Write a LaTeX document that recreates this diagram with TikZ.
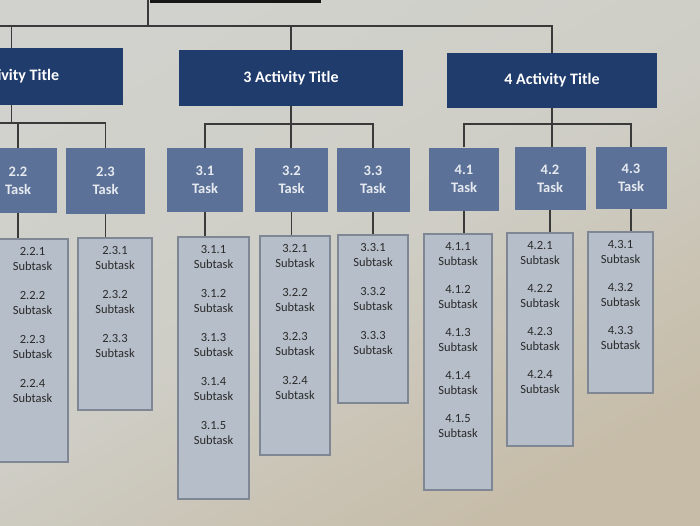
\documentclass[tikz,border=0pt]{standalone}
\usepackage{fontspec}
\usetikzlibrary{calc}
\setmainfont{Carlito}
\definecolor{navy}{HTML}{203C6C}
\definecolor{taskblue}{HTML}{5B7197}
\definecolor{subfill}{HTML}{B6BEC9}
\definecolor{subedge}{HTML}{7E8793}
\definecolor{linegray}{HTML}{3A3A3A}
\definecolor{subtext}{HTML}{2A2A2A}
\definecolor{tasktext}{HTML}{E6EAF0}
\definecolor{bgA}{HTML}{D1D2CD}
\definecolor{bgB}{HTML}{C6BCA8}
\definecolor{rootblack}{HTML}{161616}
\tikzset{
  act/.style={rectangle, fill=navy, text=white, inner sep=0pt,
    font=\bfseries\fontsize{16}{19}\selectfont},
  taskbox/.style={rectangle, fill=taskblue, text=tasktext, inner sep=0pt, align=center,
    font=\bfseries\fontsize{14.5}{18}\selectfont},
  col/.style={rectangle, fill=subfill, draw=subedge, line width=1.3pt, inner sep=0pt},
  sub/.style={text=subtext, align=center, inner sep=0pt,
    font=\fontsize{12.5}{15}\selectfont},
  conn/.style={draw=linegray, line width=1.8pt}
}
\begin{document}
\begin{tikzpicture}[x=1pt,y=-1pt]
\useasboundingbox (0,0) rectangle (700,525);
\clip (0,0) rectangle (700,525);
\shade[top color=bgA, bottom color=bgB, middle color=bgA!80!bgB, shading angle=30]
  (0,0) rectangle (700,525);

% root (partly visible)
\node[rectangle, fill=rootblack, minimum width=171pt, minimum height=20pt, inner sep=0pt] (root) at (235.5,-7.5) {};
\coordinate (rtop) at (148,-5);
\coordinate (bus) at (148,26);
\coordinate (busL) at (-20,26);

% activities
\node[act, minimum width=223pt, minimum height=57pt] (a2) at (11.5,76.5) {2 Activity Title};
\node[act, minimum width=224pt, minimum height=56pt] (a3) at (291,78) {3 Activity Title};
\node[act, minimum width=210pt, minimum height=55pt] (a4) at (552,80.5) {4 Activity Title};

\draw[conn] (rtop) -- (bus);
\draw[conn] (busL) -- (a4.north |- bus) -- (a4.north);
\draw[conn] (a2.north |- bus) -- (a2.north);
\draw[conn] (a3.north |- bus) -- (a3.north);

% tasks
\node[taskbox, minimum width=78pt, minimum height=65pt] (t22) at (18,180.5) {2.2\\Task};
\node[taskbox, minimum width=79pt, minimum height=66pt] (t23) at (105.5,181) {2.3\\Task};
\node[taskbox, minimum width=76pt, minimum height=64pt] (t31) at (205,180) {3.1\\Task};
\node[taskbox, minimum width=73pt, minimum height=64pt] (t32) at (291.5,180) {3.2\\Task};
\node[taskbox, minimum width=73pt, minimum height=64pt] (t33) at (373,180) {3.3\\Task};
\node[taskbox, minimum width=70pt, minimum height=63pt] (t41) at (464,179) {4.1\\Task};
\node[taskbox, minimum width=71pt, minimum height=63pt] (t42) at (550,178.5) {4.2\\Task};
\node[taskbox, minimum width=71pt, minimum height=62pt] (t43) at (631,178) {4.3\\Task};

% activity -> task buses
\coordinate (b2L) at (-20,123);
\draw[conn] (a2.south) -- (a2.south |- b2L);
\draw[conn] (b2L) -| (t23.north);
\draw[conn] (t22.north |- b2L) -- (t22.north);

\draw[conn] (a3.south) -- (a3.south |- t32.north);
\draw[conn] (t31.north) |- ($(a3.south)+(0,18)$) -| (t33.north);

\draw[conn] (a4.south) -- (a4.south |- t42.north);
\draw[conn] (t41.north) |- ($(a4.south)+(0,16)$) -| (t43.north);

% subtask columns
\node[col, minimum width=71pt, minimum height=223pt] (c22) at (32.5,350.5) {};
\node[col, minimum width=74pt, minimum height=172pt] (c23) at (115,324) {};
\node[col, minimum width=71pt, minimum height=262pt] (c31) at (213.5,368) {};
\node[col, minimum width=70pt, minimum height=219pt] (c32) at (295,345.5) {};
\node[col, minimum width=70pt, minimum height=168pt] (c33) at (373,319) {};
\node[col, minimum width=68pt, minimum height=256pt] (c41) at (458,362) {};
\node[col, minimum width=66pt, minimum height=213pt] (c42) at (540,339.5) {};
\node[col, minimum width=65pt, minimum height=161pt] (c43) at (620.5,312.5) {};

\foreach \t/\c in {t22/c22,t23/c23,t31/c31,t32/c32,t33/c33,t41/c41,t42/c42,t43/c43}
  \draw[conn] (\t.south) -- (\t.south |- \c.north);

% subtask labels
\foreach \c/\a/\b/\n/\d in {c22/2/2/4/44, c23/2/3/3/44, c31/3/1/5/44, c32/3/2/4/44, c33/3/3/3/44, c41/4/1/5/43, c42/4/2/4/43, c43/4/3/3/43}
  \foreach \k in {1,...,\n}
    \node[sub] (s\a\b\k) at ($(\c.north)+(0,{21+\d*(\k-1)})$) {\a.\b.\k\\Subtask};
\end{tikzpicture}
\end{document}
